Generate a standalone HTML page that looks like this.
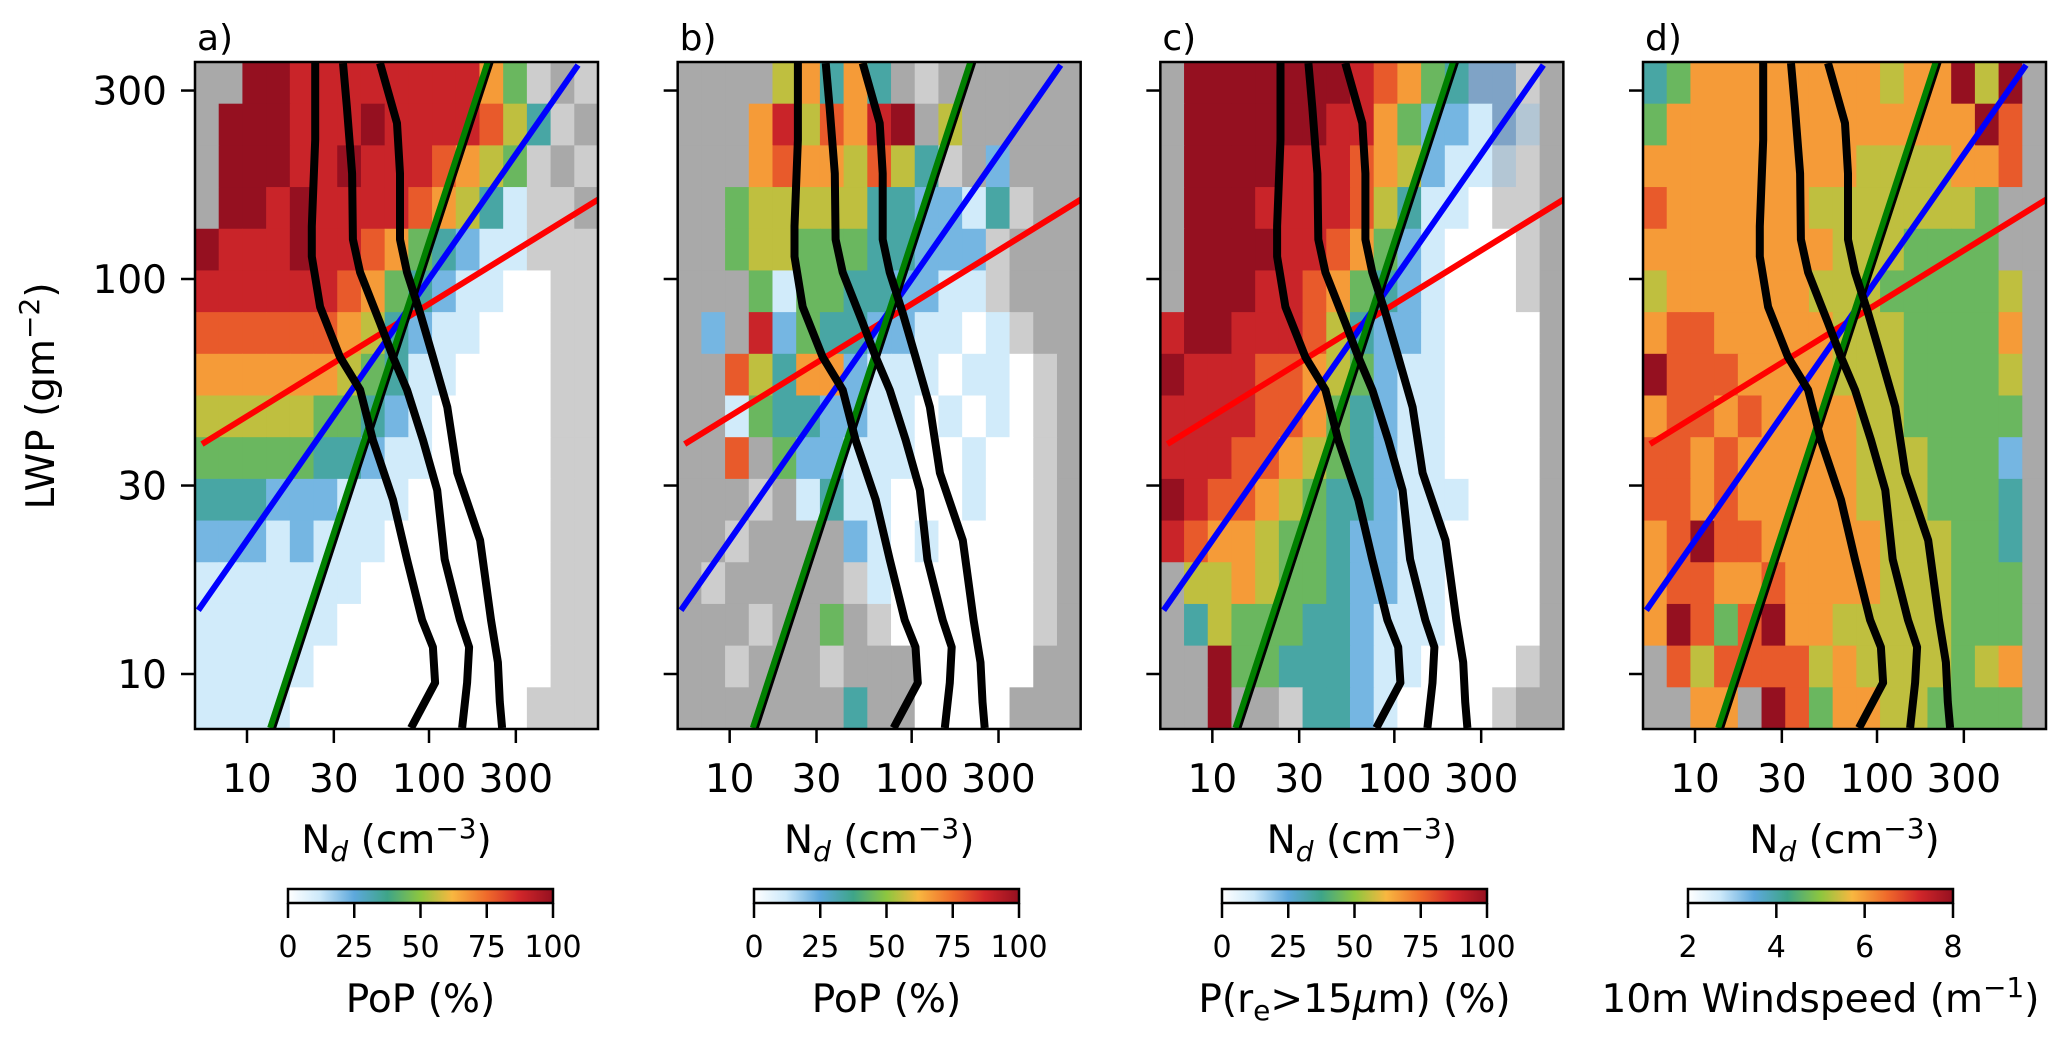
<!DOCTYPE html>
<html><head><meta charset="utf-8"><style>
html,body{margin:0;padding:0;background:#fff;}
svg{display:block;font-family:"DejaVu Sans","Liberation Sans",sans-serif;}
</style></head><body>
<svg id="chart" width="2067" height="1045" viewBox="0 0 2067 1045" xmlns="http://www.w3.org/2000/svg">
<defs>
<linearGradient id="cmapgrad" x1="0" x2="1" y1="0" y2="0">
<stop offset="0" stop-color="#ffffff"/><stop offset="0.12" stop-color="#cde9fa"/><stop offset="0.25" stop-color="#5da8dc"/>
<stop offset="0.375" stop-color="#3ea588"/><stop offset="0.5" stop-color="#8dc63f"/><stop offset="0.62" stop-color="#f8b740"/>
<stop offset="0.75" stop-color="#ef6a2b"/><stop offset="0.87" stop-color="#d2272a"/><stop offset="1" stop-color="#951020"/>
</linearGradient>
</defs>
</svg>
<script>
// ---- data ----
const xTicks=[10,30,100,300];
const yTicks=[10,30,100,300];
const popTicks=[0,25,50,75,100];
const windTicks=[2,4,6,8];
const panelLetters=['a)','b)','c)','d)'];
// heatmap grids: 17 Nd bins x 16 LWP bins (top row first); digit = colour level 0-9, '.'/':' = no data (grey), s/S = masked blue
const gridA=[
"..998888888864:.:",
".99988898888753:.",
".9998898887654:.:",
".9989888876531::.",
"98889887643211:::",
"888888764321100::",
"777777653211000::",
"666666543110000::",
"555554432100000::",
"444443321100000::",
"333222111000000::",
"222121110000000::",
"111111100000000::",
"111111000000000::",
"111110000000000::",
"11110000000000:::"];
const gridB=[
"....56363.:......",
"...6857689.5.....",
"...67665753:.2...",
"..455555332213:..",
"..45544433222:...",
"...4144332211:...",
".2.82433221101:..",
"..7536621110110:.",
"..1433221101010:.",
"..7.42211100100:.",
"...:.1311000100:.",
"..:....21010000:.",
".:.....:1000000:.",
"...:..4.:000000:.",
"..:...:...00000..",
".......3..0000..."];
const gridC=[
".999999987643ss:.",
".9999998864221sS.",
".9999888765211S:.",
".9998888753110::.",
".99998876421000:.",
".99988764321000:.",
"8998887532210000.",
"9888776542110000.",
"8888776432110000.",
"8887765432110000.",
"9877654332111000.",
"8766544322110000.",
".556544322110000.",
".354443321110000.",
"..9443332110000:.",
"..9..:33210000:.."];
const gridD=[
"3466666666566959.",
"4666666666666697.",
"6666666665555667.",
"766666655555554..",
"666666665554444..",
"5666666555444445.",
"6776666655544446.",
"9777666655544445.",
"6776766665544444.",
"7767666665554442.",
"7767666665554443.",
"6797766666555443.",
"6776676666555444.",
"6974796655555444.",
".757777565555456.",
"..66.97466554444."];
// black contour lines (Nd cm^-3, LWP g m^-2)
const contour1Nd=[23.7,23.7,22.7,22.7,25.2,32.4,41.8,49.2,63.4,75.7,91.6,105,108,79.6];
const contour1Lwp=[354,225,136,114,85,63.5,52.4,39.1,27.6,19.5,13.7,11.7,9.5,7.3];
const contour2Nd=[33.7,35.4,37.8,38.2,41.8,53.8,63.4,75.7,92.7,111,122,148,166,162,152];
const contour2Lwp=[352,272,185,126,104,77.4,63.5,52.4,39.1,29.2,19.5,13.7,11.7,9.5,7.3];
const contour3Nd=[53.8,66.7,69.3,69.3,75.7,89.3,105,126,143,191,219,239,245,252];
const contour3Lwp=[352,248,185,126,104,82,63.5,47.4,32.3,21.8,13.7,10.7,8.5,7.3];
// fitted lines
const redNd=[5.66,871], redLwp=[38.2,160];
const blueNd=[5.4,659], blueLwp=[14.5,348];
const greenNd=[13.4,210], greenLwp=[7.3,354];

// ---- drawing ----
const NS='http://www.w3.org/2000/svg';
const svg=document.getElementById('chart');
function mk(tag,parent){const e=document.createElementNS(NS,tag);parent.appendChild(e);return e;}
function set(e,o){for(const k in o)e.setAttribute(k,o[k]);return e;}
const X0=195,PW=403,TOP=62,BOT=729,DX=482.67;
const LXLO=1-52/182, LXHI=2+(PW-52-182)/182, LYLO=2-(BOT-279)/395, LYHI=2+(279-TOP)/395;
function xs(p,nd){return X0+p*DX+52+(Math.log10(nd)-1)*182;}
function ys(lwp){return 279-(Math.log10(lwp)-2)*395;}
const stops=[[0,[255,255,255]],[0.12,[205,233,250]],[0.25,[93,168,220]],[0.375,[62,165,136]],[0.5,[141,198,63]],[0.62,[248,183,64]],[0.75,[239,106,43]],[0.87,[210,39,42]],[1,[149,16,32]]];
function cmap(t){t=Math.max(0,Math.min(1,t));for(let i=1;i<stops.length;i++){if(t<=stops[i][0]){const a=stops[i-1],b=stops[i];const f=(t-a[0])/(b[0]-a[0]);const c=a[1].map((v,k)=>Math.round(v+(b[1][k]-v)*f));return 'rgb('+c.join(',')+')';}}return 'rgb(149,16,32)';}
const special={'.':'#a9a9a9',':':'#cdcdcd','s':'#7fa3c6','S':'#b3c6d4'};
const grids=[gridA,gridB,gridC,gridD];
const ranges=[[0,100],[0,100],[0,100],[2,8]];
function cellValue(ch,p){const r=ranges[p];return r[0]+(parseInt(ch,10)/9)*(r[1]-r[0]);}
function txt(parent,x,y,s,size,anchor){const t=mk('text',parent);set(t,{x:x,y:y,'font-size':size,'text-anchor':anchor||'middle',fill:'#000'});t.textContent=s;return t;}

for(let p=0;p<4;p++){
  const g=mk('g',svg);
  
  
  const left=X0+p*DX;
  const cp=mk('clipPath',svg);set(cp,{id:'clip'+p});
  set(mk('rect',cp),{x:left,y:TOP,width:PW,height:BOT-TOP});
  const plot=mk('g',g);plot.setAttribute('clip-path','url(#clip'+p+')');
  
  
  set(mk('rect',plot),{x:left,y:TOP,width:PW,height:BOT-TOP,fill:'#a9a9a9'});
  const grid=grids[p];const nr=grid.length;
  for(let r=0;r<nr;r++){
    const row=grid[r];const nc=17;
    for(let c=0;c<nc;c++){
      const ch=row[c]||'.';
      const lx0=LXLO+c*(LXHI-LXLO)/nc, lx1=LXLO+(c+1)*(LXHI-LXLO)/nc;
      const ly1=LYHI-r*(LYHI-LYLO)/nr, ly0=LYHI-(r+1)*(LYHI-LYLO)/nr;
      const x0=xs(p,Math.pow(10,lx0)), x1=xs(p,Math.pow(10,lx1));
      const y0=ys(Math.pow(10,ly1)), y1=ys(Math.pow(10,ly0));
      const fill=special[ch]||cmap((cellValue(ch,p)-ranges[p][0])/(ranges[p][1]-ranges[p][0]));
      const rc=mk('rect',plot);
      set(rc,{x:x0,y:y0,width:x1-x0+0.6,height:y1-y0+0.6,fill:fill});
      
      
    }
  }
  function line(nd,lw,color,w,name,dx){
    const l=mk('line',plot);
    set(l,{x1:xs(p,nd[0])+(dx||0),y1:ys(lw[0]),x2:xs(p,nd[1])+(dx||0),y2:ys(lw[1]),stroke:color,'stroke-width':w});
    
    
  }
  line(redNd,redLwp,'#ff0000',6,'red-fit-line');
  line(blueNd,blueLwp,'#0000ff',6,'blue-fit-line');
  line(greenNd,greenLwp,'#000000',6,'green-line-edge',3);
  line(greenNd,greenLwp,'#008000',6,'green-fit-line');
  const cs=[[contour1Nd,contour1Lwp],[contour2Nd,contour2Lwp],[contour3Nd,contour3Lwp]];
  cs.forEach((cc,i)=>{
    const pl=mk('polyline',plot);
    set(pl,{points:cc[0].map((v,k)=>xs(p,v).toFixed(1)+','+ys(cc[1][k]).toFixed(1)).join(' '),fill:'none',stroke:'#000','stroke-width':8,'stroke-linejoin':'round'});
    
    
  });
  const fr=mk('rect',g);set(fr,{x:left,y:TOP,width:PW,height:BOT-TOP,fill:'none',stroke:'#000','stroke-width':2.5});
  
  
  xTicks.forEach(v=>{
    const x=xs(p,v);
    const tk=mk('line',g);set(tk,{x1:x,y1:BOT,x2:x,y2:BOT+14,stroke:'#000','stroke-width':2.5});
    
    
    const tl=txt(g,x,792,String(v),39);
    
    
  });
  yTicks.forEach(v=>{
    const y=ys(v);
    const tk=mk('line',g);set(tk,{x1:left-14,y1:y,x2:left,y2:y,stroke:'#000','stroke-width':2.5});
    
    
    if(p===0){
      const tl=txt(g,left-28,y+14,String(v),39,'end');
      
      
    }
  });
  const lt=txt(g,left+2,50,panelLetters[p],36,'start');
  
  
  const xl=mk('text',g);set(xl,{x:left+PW/2,y:853,'font-size':39,'text-anchor':'middle'});
  xl.innerHTML='N<tspan font-style="italic" font-size="28" dy="8">d</tspan><tspan dy="-8"> (cm</tspan><tspan font-size="28" dy="-15">−3</tspan><tspan dy="15">)</tspan>';
  
  
}
const yl=mk('text',svg);set(yl,{x:0,y:0,'font-size':39,'text-anchor':'middle',transform:'translate(54,396) rotate(-90)'});
yl.innerHTML='LWP (gm<tspan font-size="28" dy="-15">−2</tspan><tspan dy="15">)</tspan>';


const cbX=[288,754,1222,1688];
const cbLabels=['PoP (%)','PoP (%)','P(r<tspan font-size="28" dy="8">e</tspan><tspan dy="-8">&gt;15</tspan><tspan font-style="italic">μ</tspan>m) (%)','10m Windspeed (m<tspan font-size="28" dy="-15">−1</tspan><tspan dy="15">)</tspan>'];
for(let p=0;p<4;p++){
  const g=mk('g',svg);
  
  
  const x0=cbX[p],w=265;
  const bar=mk('rect',g);set(bar,{x:x0,y:889,width:w,height:14,fill:'url(#cmapgrad)',stroke:'#000','stroke-width':2.5});
  
  
  const ticks=p===3?windTicks:popTicks;
  const lo=ticks[0],hi=ticks[ticks.length-1];
  ticks.forEach(v=>{
    const x=x0+(v-lo)/(hi-lo)*w;
    const tk=mk('line',g);set(tk,{x1:x,y1:903,x2:x,y2:918,stroke:'#000','stroke-width':2.5});
    
    
    const tl=txt(g,x,957,String(v),30);
    
    
  });
  const lb=mk('text',g);set(lb,{x:x0+w/2,y:1012,'font-size':39,'text-anchor':'middle'});
  lb.innerHTML=cbLabels[p];
  
  
}
</script>
</body></html>
